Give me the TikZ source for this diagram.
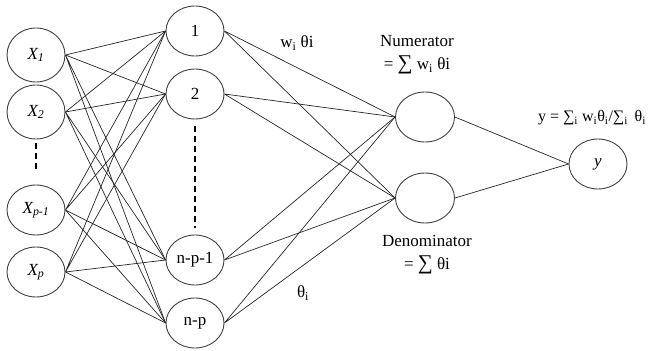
\documentclass[tikz,border=0pt]{standalone}
\usepackage{fontspec}
\setmainfont{Liberation Serif}
\usepackage{tikz}
\usetikzlibrary{shapes.geometric,positioning,calc}

\newcommand{\bigsum}{{\fontsize{21}{21}\selectfont ∑}}

\begin{document}
\begin{tikzpicture}[x=1pt, y=-1pt,
  unit/.style={draw=black!75, ellipse, line width=0.9pt, inner sep=0pt, minimum width=58, minimum height=50, font=\fontsize{17}{20}\selectfont},
  link/.style={black!85, line width=0.7pt},
  gap/.style={dashed, line width=1.8pt, dash pattern=on 6pt off 4pt},
  lbl/.style={font=\fontsize{17}{23}\selectfont, align=center},
]
\useasboundingbox (0,0) rectangle (654,351);

% inputs
\node[unit, minimum height=54] (x1) at (36,55) {\textit{X\textsubscript{1}}};
\node[unit, minimum height=54] (x2) at (36,112) {\textit{X\textsubscript{2}}};
\node[unit] (xp1) at (36,210) {\textit{X\textsubscript{p-1}}};
\node[unit] (xp) at (36,272) {\textit{X\textsubscript{p}}};

% rules layer
\node[unit] (h1) at (195,31) {1};
\node[unit] (h2) at (195,94) {2};
\node[unit] (hn1) at (195,260) {n-p-1};
\node[unit] (hn) at (195,323) {n-p};

% sums and output
\node[unit, minimum width=59] (num) at (425,117) {};
\node[unit, minimum width=59] (den) at (425,198) {};
\node[unit] (out) at (598,164) {\textit{y}};

\draw[gap, shorten <=4pt, shorten >=12pt] (x2.south) -- (xp1.north);
\draw[gap, shorten <=7pt, shorten >=7pt] (h2.south) -- (hn1.north);

\draw[link] (x1.east) -- (h1.west) (x1.east) -- (h2.west) (x1.east) -- (hn1.west) (x1.east) -- (hn.west);
\draw[link] (x2.east) -- (h1.west) (x2.east) -- (h2.west) (x2.east) -- (hn1.west) (x2.east) -- (hn.west);
\draw[link] (xp1.east) -- (h1.west) (xp1.east) -- (h2.west) (xp1.east) -- (hn1.west) (xp1.east) -- (hn.west);
\draw[link] (xp.east) -- (h1.west) (xp.east) -- (h2.west) (xp.east) -- (hn1.west) (xp.east) -- (hn.west);

\draw[link] (h1.east) -- (num.west) (h1.east) -- (den.west);
\draw[link] (h2.east) -- (num.west) (h2.east) -- (den.west);
\draw[link] (hn1.east) -- (num.west) (hn1.east) -- (den.west);
\draw[link] (hn.east) -- (num.west) (hn.east) -- (den.west);

\draw[link] (num.east) -- (out.west);
\draw[link] (den.east) -- (out.west);

\node[lbl] (wlbl) at (297,43) {w\textsubscript{i} θi};
\node[lbl] (tlbl) at (303,293) {θ\textsubscript{i}};
\node[lbl] (numlbl) at (417,55) {Numerator\\= \bigsum{} w\textsubscript{i} θi};
\node[lbl] (denlbl) at (427,255) {Denominator\\= \bigsum{} θi};
\node[lbl, font=\fontsize{16}{18}\selectfont] (ylbl) at (592,118) {y = ∑\textsubscript{i} w\textsubscript{i}θ\textsubscript{i}/∑\textsubscript{i}\, θ\textsubscript{i}};
\end{tikzpicture}
\end{document}
